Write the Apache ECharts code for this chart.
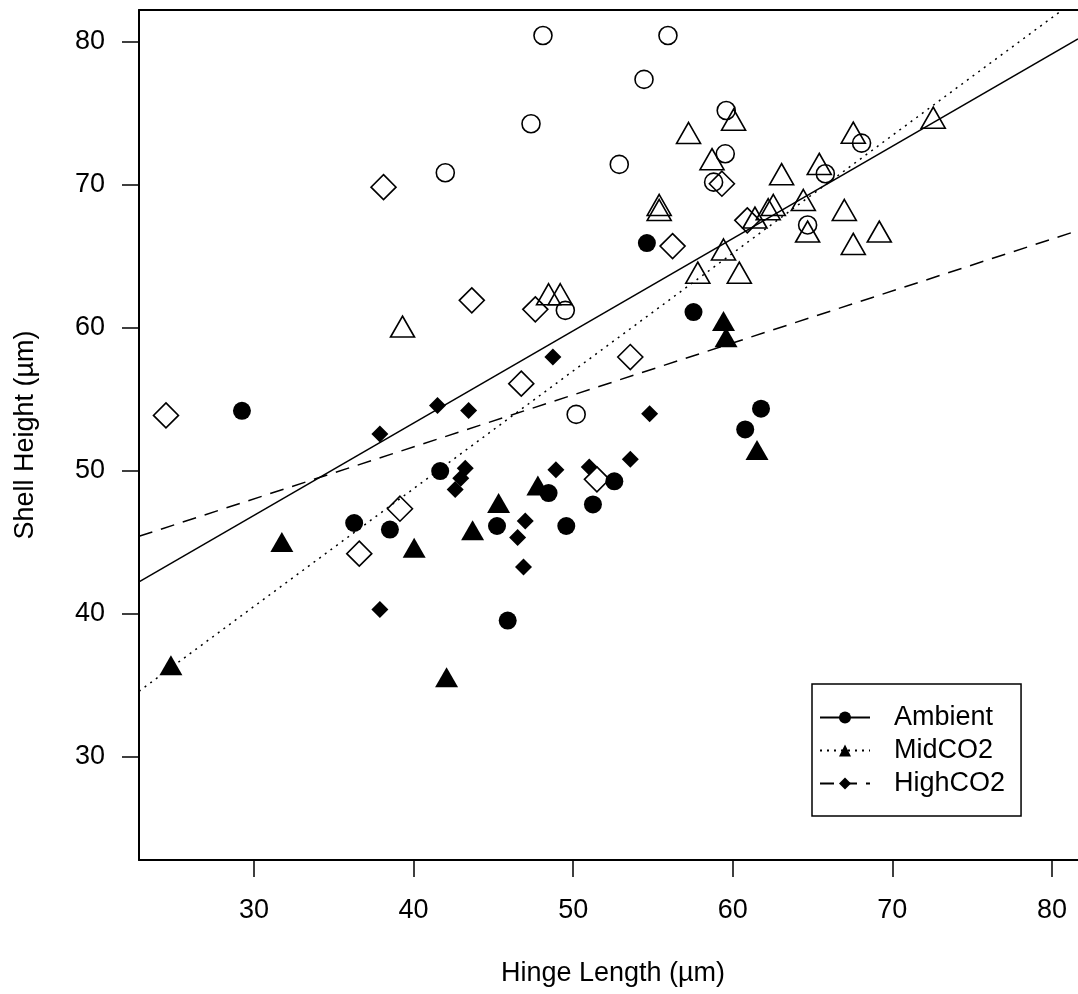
<!DOCTYPE html>
<html>
<head>
<meta charset="utf-8">
<title>Shell Height vs Hinge Length</title>
<script src="https://cdn.jsdelivr.net/npm/echarts@6/dist/echarts.min.js"></script>
<style>
  html, body { margin: 0; padding: 0; background: #fff; }
  #chart { width: 1078px; height: 994px; }
</style>
</head>
<body>
<div id="chart"></div>
<script>
// Tick values shared by both axes
const xTicks = [30, 40, 50, 60, 70, 80];
const yTicks = [30, 40, 50, 60, 70, 80];

// Ambient: filled and open markers, [hinge length, shell height] in µm
const ambientFilled = [
  [29.25, 54.19], [36.28, 46.35], [38.52, 45.89], [41.67, 49.98], [45.23, 46.14],
  [45.90, 39.53], [48.46, 48.44], [49.57, 46.14], [51.24, 47.65], [52.58, 49.26],
  [54.62, 65.91], [57.54, 61.09], [60.78, 52.89], [61.77, 54.34]
];
const ambientOpen = [
  [48.11, 80.42], [55.94, 80.42], [54.44, 77.35], [47.36, 74.25], [52.89, 71.41],
  [41.99, 70.83], [59.59, 75.18], [59.53, 72.15], [58.80, 70.17], [65.80, 70.76],
  [68.07, 72.90], [64.69, 67.18], [49.51, 61.21], [50.19, 53.94]
];

// MidCO2
const midFilled = [
  [24.80, 36.64], [31.75, 45.26], [40.04, 44.86], [42.07, 35.80], [43.70, 46.07],
  [45.33, 47.98], [47.79, 49.21], [59.42, 60.70], [59.58, 59.57], [61.52, 51.69]
];
const midOpen = [
  [39.31, 60.32], [48.46, 62.58], [49.19, 62.58], [55.39, 68.82], [55.39, 68.47],
  [57.23, 73.85], [58.70, 72.02], [60.05, 74.78], [59.42, 65.71], [57.81, 64.09],
  [60.41, 64.09], [61.39, 67.94], [62.22, 68.52], [62.54, 68.82], [63.06, 70.97],
  [64.42, 69.17], [65.42, 71.69], [67.55, 73.87], [66.99, 68.47], [64.69, 66.96],
  [67.55, 66.10], [69.18, 66.96], [72.56, 74.92]
];

// HighCO2
const highFilled = [
  [37.89, 52.57], [41.50, 54.57], [43.45, 54.22], [43.24, 50.17], [42.96, 49.47],
  [42.61, 48.70], [37.89, 40.30], [48.73, 57.95], [48.92, 50.08], [51.01, 50.26],
  [53.58, 50.80], [54.79, 53.99], [47.00, 46.49], [46.52, 45.33], [46.89, 43.27]
];
const highOpen = [
  [24.49, 53.87], [38.12, 69.82], [43.65, 61.91], [47.63, 61.28], [46.75, 56.09],
  [39.15, 47.35], [36.60, 44.21], [51.49, 49.40], [53.58, 57.95], [56.23, 65.70],
  [59.32, 70.06], [60.91, 67.50]
];

// Fitted lines, given by their ends at the axis limits
const ambientFit = [[22.8, 42.23], [81.63, 80.18]];
const midFit = [[22.8, 34.59], [81.63, 83.01]];
const highFit = [[22.8, 45.42], [81.63, 66.79]];

const groupNames = ['Ambient', 'MidCO2', 'HighCO2'];

const FONT = '"Liberation Sans", Arial, Helvetica, sans-serif';
const INK = '#000';
const FS = 27;

function fitLine(name, data, dash, symbol) {
  return {
    name: name,
    type: 'line',
    data: data,
    symbol: symbol,
    showSymbol: false,
    clip: true,
    silent: true,
    z: 5,
    itemStyle: { color: INK },
    lineStyle: { color: INK, width: 1.5, type: dash }
  };
}

function filledPoints(name, data, symbol, size, offset) {
  return {
    name: name,
    type: 'scatter',
    data: data,
    symbol: symbol,
    symbolSize: size,
    symbolOffset: offset || [0, 0],
    silent: true,
    z: 3,
    itemStyle: { color: INK, opacity: 1 }
  };
}

function openPoints(name, data, symbol, size, offset) {
  return {
    name: name,
    type: 'scatter',
    data: data,
    symbol: symbol,
    symbolSize: size,
    symbolOffset: offset || [0, 0],
    silent: true,
    z: 3,
    itemStyle: { color: 'rgba(0,0,0,0)', borderColor: INK, borderWidth: 1.6, opacity: 1 }
  };
}

// triangles are balanced on their centroid rather than their box centre
const triShift = [0, '16.7%'];

const xRange = { min: 22.8, max: 81.63 };
const yRange = { min: 22.8, max: 82.2 };

const chart = echarts.init(document.getElementById('chart'), null, { renderer: 'canvas' });

chart.setOption({
  animation: false,
  backgroundColor: '#fff',
  textStyle: { fontFamily: FONT, color: INK },
  grid: { left: 139, top: 10, width: 939, height: 850, show: false },
  xAxis: [{
    type: 'value',
    min: xRange.min, max: xRange.max,
    name: 'Hinge Length (µm)',
    nameLocation: 'middle',
    nameGap: 100,
    nameTextStyle: { fontSize: FS, color: INK, fontFamily: FONT, padding: [0, 0, 0, 9] },
    axisLine: { show: true, lineStyle: { color: INK, width: 2 } },
    axisTick: { show: true, customValues: xTicks, length: 17, inside: false, lineStyle: { color: INK, width: 1.5 } },
    axisLabel: { customValues: xTicks, fontSize: FS, color: INK, margin: 37, fontFamily: FONT },
    splitLine: { show: false }
  }, {
    // top edge of the plot frame
    type: 'value',
    position: 'top',
    min: xRange.min, max: xRange.max,
    axisLine: { show: true, lineStyle: { color: INK, width: 2 } },
    axisTick: { show: false },
    axisLabel: { show: false },
    splitLine: { show: false }
  }],
  yAxis: {
    type: 'value',
    min: yRange.min, max: yRange.max,
    name: 'Shell Height (µm)',
    nameLocation: 'middle',
    nameGap: 100,
    nameTextStyle: { fontSize: FS, color: INK, fontFamily: FONT },
    axisLine: { show: true, lineStyle: { color: INK, width: 2 } },
    axisTick: { show: true, customValues: yTicks, length: 17, inside: false, lineStyle: { color: INK, width: 1.5 } },
    axisLabel: { customValues: yTicks, fontSize: FS, color: INK, margin: 34, fontFamily: FONT },
    splitLine: { show: false }
  },
  legend: {
    data: groupNames,
    orient: 'vertical',
    left: 812,
    top: 684,
    padding: [20, 16, 19, 7],
    itemGap: 6,
    itemWidth: 50,
    itemHeight: 15,
    selectedMode: false,
    borderColor: INK,
    borderWidth: 1.5,
    backgroundColor: '#fff',
    textStyle: { fontSize: FS, color: INK, fontFamily: FONT, padding: [0, 0, 0, 19] }
  },
  series: [
    fitLine('Ambient', ambientFit, 'solid', 'circle'),
    fitLine('MidCO2', midFit, [2, 5], 'triangle'),
    fitLine('HighCO2', highFit, [14, 9], 'diamond'),
    filledPoints('Ambient', ambientFilled, 'circle', 18),
    openPoints('Ambient', ambientOpen, 'circle', 18),
    filledPoints('MidCO2', midFilled, 'triangle', [23, 20], triShift),
    openPoints('MidCO2', midOpen, 'triangle', [24, 21], triShift),
    filledPoints('HighCO2', highFilled, 'diamond', [17, 17]),
    openPoints('HighCO2', highOpen, 'diamond', [25, 25])
  ]
});
</script>
</body>
</html>
